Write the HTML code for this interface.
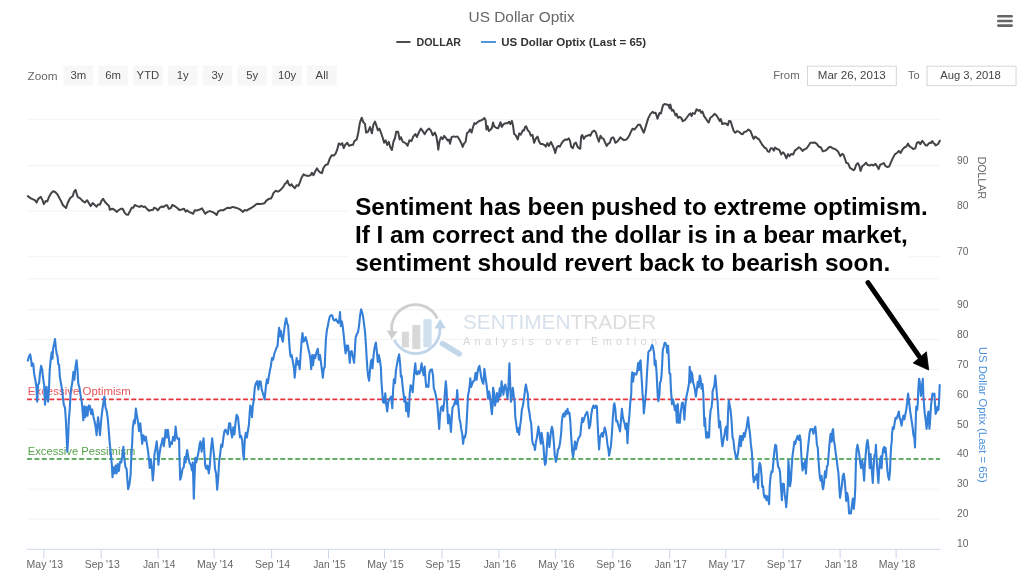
<!DOCTYPE html>
<html><head><meta charset="utf-8"><title>US Dollar Optix</title>
<style>
html,body{margin:0;padding:0;background:#fff;}
body{width:1024px;height:579px;overflow:hidden;font-family:"Liberation Sans",sans-serif;}
svg{display:block;filter:blur(0.45px)}
text{font-family:"Liberation Sans",sans-serif}
.ax{font-size:10.3px;fill:#666}
.btn{font-size:11.3px;fill:#444}
.lg{font-size:11.3px;font-weight:bold;fill:#333}
.note{font-size:24.3px;font-weight:bold;fill:#000}
</style></head><body>
<svg width="1024" height="579" viewBox="0 0 1024 579">
<rect width="1024" height="579" fill="#fff"/>

<g stroke="#f3f3f3" stroke-width="1" shape-rendering="auto">
<line x1="27" y1="119.7" x2="940" y2="119.7"/>
<line x1="27" y1="165.5" x2="940" y2="165.5"/>
<line x1="27" y1="211" x2="940" y2="211"/>
<line x1="27" y1="256.7" x2="940" y2="256.7"/>
<line x1="27" y1="278.8" x2="940" y2="278.8"/>
<line x1="27" y1="309.5" x2="940" y2="309.5"/>
<line x1="27" y1="339.5" x2="940" y2="339.5"/>
<line x1="27" y1="369.5" x2="940" y2="369.5"/>
<line x1="27" y1="399.4" x2="940" y2="399.4"/>
<line x1="27" y1="429.3" x2="940" y2="429.3"/>
<line x1="27" y1="459.2" x2="940" y2="459.2"/>
<line x1="27" y1="489.2" x2="940" y2="489.2"/>
<line x1="27" y1="519" x2="940" y2="519"/>
</g>
<line x1="27" y1="549.3" x2="940" y2="549.3" stroke="#ccd6eb" stroke-width="1"/>
<g stroke="#ccd6eb" stroke-width="1">
<line x1="43.8" y1="549" x2="43.8" y2="558.5"/>
<line x1="101.2" y1="549" x2="101.2" y2="558.5"/>
<line x1="158.2" y1="549" x2="158.2" y2="558.5"/>
<line x1="214.2" y1="549" x2="214.2" y2="558.5"/>
<line x1="271.6" y1="549" x2="271.6" y2="558.5"/>
<line x1="328.5" y1="549" x2="328.5" y2="558.5"/>
<line x1="384.5" y1="549" x2="384.5" y2="558.5"/>
<line x1="442.0" y1="549" x2="442.0" y2="558.5"/>
<line x1="498.9" y1="549" x2="498.9" y2="558.5"/>
<line x1="555.4" y1="549" x2="555.4" y2="558.5"/>
<line x1="612.8" y1="549" x2="612.8" y2="558.5"/>
<line x1="669.7" y1="549" x2="669.7" y2="558.5"/>
<line x1="725.8" y1="549" x2="725.8" y2="558.5"/>
<line x1="783.2" y1="549" x2="783.2" y2="558.5"/>
<line x1="840.1" y1="549" x2="840.1" y2="558.5"/>
<line x1="896.1" y1="549" x2="896.1" y2="558.5"/>
</g>
<g class="ax" text-anchor="middle">
<text x="44.8" y="567.7" textLength="36.5" lengthAdjust="spacingAndGlyphs">May '13</text>
<text x="102.2" y="567.7" textLength="35" lengthAdjust="spacingAndGlyphs">Sep '13</text>
<text x="159.2" y="567.7" textLength="32.5" lengthAdjust="spacingAndGlyphs">Jan '14</text>
<text x="215.2" y="567.7" textLength="36.5" lengthAdjust="spacingAndGlyphs">May '14</text>
<text x="272.6" y="567.7" textLength="35" lengthAdjust="spacingAndGlyphs">Sep '14</text>
<text x="329.5" y="567.7" textLength="32.5" lengthAdjust="spacingAndGlyphs">Jan '15</text>
<text x="385.5" y="567.7" textLength="36.5" lengthAdjust="spacingAndGlyphs">May '15</text>
<text x="443.0" y="567.7" textLength="35" lengthAdjust="spacingAndGlyphs">Sep '15</text>
<text x="499.9" y="567.7" textLength="32.5" lengthAdjust="spacingAndGlyphs">Jan '16</text>
<text x="556.4" y="567.7" textLength="36.5" lengthAdjust="spacingAndGlyphs">May '16</text>
<text x="613.8" y="567.7" textLength="35" lengthAdjust="spacingAndGlyphs">Sep '16</text>
<text x="670.7" y="567.7" textLength="32.5" lengthAdjust="spacingAndGlyphs">Jan '17</text>
<text x="726.8" y="567.7" textLength="36.5" lengthAdjust="spacingAndGlyphs">May '17</text>
<text x="784.2" y="567.7" textLength="35" lengthAdjust="spacingAndGlyphs">Sep '17</text>
<text x="841.1" y="567.7" textLength="32.5" lengthAdjust="spacingAndGlyphs">Jan '18</text>
<text x="897.1" y="567.7" textLength="36.5" lengthAdjust="spacingAndGlyphs">May '18</text>
</g>
<text x="468.6" y="21.6" font-size="15px" fill="#666" textLength="106" lengthAdjust="spacingAndGlyphs">US Dollar Optix</text>
<line x1="396.3" y1="42" x2="410.5" y2="42" stroke="#434348" stroke-width="1.9"/>
<text class="lg" x="416.6" y="45.9" textLength="44.5" lengthAdjust="spacingAndGlyphs">DOLLAR</text>
<line x1="481" y1="42" x2="496" y2="42" stroke="#4a90d9" stroke-width="1.9"/>
<text class="lg" x="501.3" y="45.9" textLength="144.8" lengthAdjust="spacingAndGlyphs">US Dollar Optix (Last = 65)</text>
<g stroke="#666" stroke-width="2.6" stroke-linecap="round"><line x1="998.3" y1="16.3" x2="1011.6" y2="16.3"/><line x1="998.3" y1="21" x2="1011.6" y2="21"/><line x1="998.3" y1="25.6" x2="1011.6" y2="25.6"/></g>
<text class="btn" x="27.5" y="79.6" fill="#666" style="fill:#666" textLength="30" lengthAdjust="spacingAndGlyphs">Zoom</text>
<rect x="63.5" y="65.6" width="29.6" height="19.9" fill="#f7f7f7"/>
<text class="btn" x="78.3" y="79.3" text-anchor="middle">3m</text>
<rect x="98.3" y="65.6" width="29.6" height="19.9" fill="#f7f7f7"/>
<text class="btn" x="113.1" y="79.3" text-anchor="middle">6m</text>
<rect x="133.1" y="65.6" width="29.6" height="19.9" fill="#f7f7f7"/>
<text class="btn" x="147.9" y="79.3" text-anchor="middle">YTD</text>
<rect x="167.9" y="65.6" width="29.6" height="19.9" fill="#f7f7f7"/>
<text class="btn" x="182.7" y="79.3" text-anchor="middle">1y</text>
<rect x="202.7" y="65.6" width="29.6" height="19.9" fill="#f7f7f7"/>
<text class="btn" x="217.5" y="79.3" text-anchor="middle">3y</text>
<rect x="237.5" y="65.6" width="29.6" height="19.9" fill="#f7f7f7"/>
<text class="btn" x="252.3" y="79.3" text-anchor="middle">5y</text>
<rect x="272.3" y="65.6" width="29.6" height="19.9" fill="#f7f7f7"/>
<text class="btn" x="287.1" y="79.3" text-anchor="middle">10y</text>
<rect x="307.1" y="65.6" width="29.6" height="19.9" fill="#f7f7f7"/>
<text class="btn" x="321.9" y="79.3" text-anchor="middle">All</text>
<text class="btn" x="773.2" y="79.3" style="fill:#666" textLength="26.4" lengthAdjust="spacingAndGlyphs">From</text>
<rect x="807.5" y="66.2" width="88.8" height="19.4" fill="#fff" stroke="#d6d6d6" stroke-width="1"/>
<text class="btn" x="817.8" y="79.3" textLength="68" lengthAdjust="spacingAndGlyphs">Mar 26, 2013</text>
<text class="btn" x="908" y="79.3" style="fill:#666" textLength="11.7" lengthAdjust="spacingAndGlyphs">To</text>
<rect x="927" y="66.2" width="89" height="19.4" fill="#fff" stroke="#d6d6d6" stroke-width="1"/>
<text class="btn" x="940.2" y="79.3" textLength="60.7" lengthAdjust="spacingAndGlyphs">Aug 3, 2018</text>
<text class="ax" x="957" y="163.8">90</text>
<text class="ax" x="957" y="209.0">80</text>
<text class="ax" x="957" y="254.9">70</text>
<text class="ax" x="957" y="308.1">90</text>
<text class="ax" x="957" y="338.0">80</text>
<text class="ax" x="957" y="367.9">70</text>
<text class="ax" x="957" y="397.8">60</text>
<text class="ax" x="957" y="427.6">50</text>
<text class="ax" x="957" y="457.4">40</text>
<text class="ax" x="957" y="487.2">30</text>
<text class="ax" x="957" y="517.0">20</text>
<text class="ax" x="957" y="546.8">10</text>
<text class="ax" transform="translate(977.5,156.7) rotate(90)" style="font-size:11.3px" textLength="42.4" lengthAdjust="spacingAndGlyphs">DOLLAR</text>
<text class="ax" transform="translate(978.7,346.7) rotate(90)" style="font-size:11.3px;fill:#4a90d9" textLength="136" lengthAdjust="spacingAndGlyphs">US Dollar Optix (Last = 65)</text>
<g fill="none" stroke-linecap="butt">
<path d="M437.4 318.6 A24 24 0 0 0 392.1 333.5" stroke="#cfcfcf" stroke-width="2.8"/>
<path d="M394.3 340 A24 24 0 0 0 439.9 329.5 L439.9 326" stroke="#bfd5e9" stroke-width="2.8"/>
<polygon points="386.6,330.3 397.6,331.6 391.6,339.2" fill="#cfcfcf"/>
<polygon points="434.4,328.6 445.8,328.2 440.2,319" fill="#bfd5e9"/>
<line x1="442.5" y1="343.6" x2="459.3" y2="353.8" stroke="#c2d7ea" stroke-width="5.6" stroke-linecap="round"/>
<rect x="401.9" y="331.7" width="7" height="15.6" fill="#d8d8d8"/>
<rect x="412.3" y="325" width="8" height="24" fill="#d8d8d8"/>
<rect x="423.4" y="319.2" width="8.2" height="28.1" fill="#d0e0ee"/>
</g>
<text x="462.9" y="329" font-size="19.5px" fill="#d7e1eb" textLength="193.3" lengthAdjust="spacingAndGlyphs">SENTIMEN<tspan fill="#dddddd">TRADER</tspan></text>
<text x="463" y="345.1" font-size="11px" fill="#d6d6d6" textLength="194" lengthAdjust="spacing">Analysis over Emotion</text>

<line x1="27" y1="399.4" x2="940" y2="399.4" stroke="#e8323c" stroke-width="1.7" stroke-dasharray="4.9 2.55"/>
<line x1="27" y1="459.0" x2="940" y2="459.0" stroke="#339a3a" stroke-width="1.7" stroke-dasharray="4.9 2.55"/>
<text x="27.8" y="395.4" font-size="11.3px" fill="#e4555a" textLength="103" lengthAdjust="spacingAndGlyphs">Excessive Optimism</text>
<text x="27.8" y="455.4" font-size="11.3px" fill="#55a04a" textLength="107.5" lengthAdjust="spacingAndGlyphs">Excessive Pessimism</text>
<path d="M27.8 196.2 L30.9 198.3 L34.8 200.2 L36.7 202.5 L38.0 199.1 L40.8 196.9 L42.7 200.6 L43.9 204.1 L45.8 200.9 L47.3 201.4 L48.9 197.2 L51.2 193.1 L53.1 191.2 L55.2 192.0 L57.2 194.1 L59.1 197.5 L60.9 200.9 L63.0 205.3 L66.1 208.0 L67.7 203.0 L70.0 198.3 L72.8 195.9 L73.9 192.0 L75.5 189.7 L76.6 193.6 L77.8 197.2 L80.2 198.3 L82.5 200.9 L84.8 202.5 L87.2 200.3 L88.8 203.0 L90.6 206.1 L92.7 203.0 L95.0 205.3 L96.6 206.6 L98.1 204.5 L100.0 204.5 L101.6 200.6 L103.1 198.8 L105.2 202.2 L107.5 204.5 L109.1 206.1 L109.8 209.7 L112.2 208.8 L114.5 209.7 L116.9 211.9 L118.8 210.0 L120.8 208.8 L122.7 208.8 L124.4 212.3 L126.2 214.4 L128.1 214.7 L130.2 210.8 L131.7 207.7 L133.3 207.7 L134.8 205.0 L137.2 206.1 L139.5 206.9 L141.1 205.8 L143.4 206.9 L145.0 206.6 L146.9 208.8 L148.9 210.8 L151.2 210.0 L153.1 209.7 L154.1 207.7 L155.9 208.4 L157.8 210.3 L159.8 207.7 L161.9 206.4 L163.0 207.2 L165.3 205.6 L167.2 205.3 L168.8 208.8 L170.8 208.1 L172.3 205.0 L174.7 206.1 L177.0 207.7 L179.4 210.0 L181.7 209.5 L184.1 208.8 L185.6 211.6 L187.2 210.3 L188.8 211.9 L191.1 212.7 L193.1 213.8 L194.7 210.3 L196.6 210.6 L198.9 209.8 L202.0 208.4 L203.6 211.1 L205.2 213.8 L207.5 211.9 L209.8 211.1 L212.2 211.9 L214.5 213.1 L216.6 215.0 L218.4 211.1 L220.8 210.3 L223.1 210.3 L225.5 208.8 L227.8 207.7 L230.2 208.1 L232.5 206.9 L234.8 207.5 L237.2 208.1 L239.5 209.1 L241.1 210.3 L242.7 211.9 L244.7 210.0 L246.6 210.6 L248.9 209.1 L251.2 208.0 L253.6 206.4 L255.9 204.4 L257.5 203.8 L259.8 204.1 L262.2 203.8 L264.5 203.3 L266.1 200.9 L268.4 199.1 L270.8 198.6 L272.3 196.2 L273.4 193.1 L275.5 190.8 L277.8 191.6 L279.4 190.8 L281.2 189.2 L283.3 186.9 L284.8 184.1 L286.9 182.2 L287.5 180.6 L288.8 184.5 L290.3 185.6 L291.6 184.2 L293.4 186.9 L295.0 188.1 L296.6 185.3 L298.4 185.8 L300.0 182.2 L301.6 177.5 L303.6 174.4 L305.9 175.6 L308.3 175.9 L310.6 175.2 L311.9 172.8 L313.4 175.2 L315.3 171.2 L316.9 168.4 L318.8 171.2 L320.3 172.5 L321.9 173.1 L323.4 168.1 L325.5 165.0 L327.8 164.2 L329.7 158.8 L331.7 155.2 L333.8 155.6 L335.6 153.6 L337.2 149.7 L338.8 143.4 L340.6 144.7 L342.2 143.1 L343.8 148.1 L345.3 144.7 L347.3 142.7 L348.9 145.8 L351.2 145.0 L353.1 144.7 L354.4 141.1 L356.7 139.5 L358.3 132.5 L359.8 123.1 L361.7 117.7 L363.4 122.3 L365.0 123.9 L366.1 132.5 L368.1 131.7 L370.0 127.0 L371.9 133.3 L373.4 124.7 L375.0 121.6 L376.6 126.2 L377.8 130.2 L379.4 128.6 L381.2 133.3 L382.8 138.0 L384.1 142.7 L385.6 140.3 L387.2 145.0 L388.8 141.9 L390.3 147.3 L391.9 150.0 L393.4 141.9 L395.0 138.0 L396.2 131.7 L398.1 131.7 L399.7 139.5 L400.9 137.2 L402.8 141.9 L404.7 142.7 L406.2 143.8 L407.5 145.8 L409.4 140.3 L411.4 141.1 L413.4 136.4 L415.3 134.1 L416.9 136.9 L418.8 132.5 L420.8 128.6 L422.8 131.2 L424.7 134.1 L427.0 130.2 L429.1 128.6 L430.9 130.6 L432.8 135.3 L434.8 132.5 L436.4 136.4 L437.5 143.4 L438.3 149.7 L439.5 141.1 L441.1 137.2 L442.7 139.1 L444.2 135.9 L446.2 138.4 L447.8 140.6 L449.1 139.5 L450.0 143.8 L451.6 137.2 L453.6 136.4 L455.6 136.9 L457.5 136.4 L459.4 139.5 L461.4 143.4 L462.7 146.9 L464.1 143.4 L465.6 141.9 L466.9 133.3 L468.8 131.7 L470.0 129.4 L471.6 132.5 L472.8 127.8 L474.4 123.1 L475.9 123.9 L477.8 121.9 L479.7 120.8 L480.9 120.6 L482.5 119.7 L484.4 118.1 L485.6 120.2 L486.4 129.5 L487.5 125.9 L488.8 131.1 L490.6 129.5 L491.9 128.0 L493.1 122.5 L494.2 126.4 L496.6 128.0 L498.1 128.4 L500.5 122.2 L501.7 126.9 L503.6 124.1 L505.6 123.3 L507.5 123.3 L509.1 121.7 L510.3 124.1 L511.9 120.9 L513.0 125.6 L514.2 134.2 L515.6 135.0 L517.7 139.4 L519.2 133.4 L520.8 134.7 L522.8 130.3 L523.9 130.6 L525.0 127.2 L526.2 126.4 L527.8 130.3 L529.4 131.9 L530.9 135.8 L532.5 134.7 L534.1 142.8 L535.6 138.9 L537.5 136.6 L539.1 141.6 L540.6 144.1 L542.7 144.1 L544.7 145.2 L545.8 146.7 L547.3 143.1 L548.9 145.9 L550.9 142.0 L552.5 145.2 L554.1 149.1 L555.2 153.0 L556.7 147.5 L558.3 145.9 L559.8 146.7 L561.4 143.6 L563.4 140.9 L565.6 139.4 L567.2 139.7 L568.8 138.4 L570.0 140.9 L571.2 146.7 L572.8 148.3 L574.4 143.6 L575.9 142.5 L577.5 146.7 L579.1 148.3 L580.2 148.8 L581.2 136.6 L582.2 135.0 L583.8 138.9 L585.6 136.2 L587.5 135.8 L589.1 134.7 L590.3 135.8 L592.2 131.9 L594.2 130.6 L595.8 132.2 L597.3 137.3 L598.9 141.6 L600.5 135.8 L602.0 138.1 L603.6 138.9 L605.2 142.8 L606.7 145.9 L608.3 143.6 L609.8 142.8 L611.4 138.1 L613.0 137.3 L614.1 138.9 L615.3 142.8 L617.2 141.6 L618.8 139.7 L620.3 137.3 L621.9 138.9 L623.9 140.0 L625.9 139.7 L627.8 138.1 L629.7 134.7 L630.9 131.9 L632.5 128.8 L634.4 129.5 L636.4 127.2 L638.0 124.8 L640.0 124.8 L641.9 128.8 L643.8 132.7 L645.8 126.4 L648.1 118.6 L650.5 113.9 L652.5 111.9 L654.1 113.1 L655.6 112.8 L657.5 118.6 L659.4 113.1 L660.9 113.4 L663.0 105.3 L664.5 104.1 L666.6 104.5 L668.4 105.0 L669.7 108.4 L670.3 104.5 L671.9 110.8 L673.4 110.0 L675.5 115.5 L676.6 113.9 L678.1 117.8 L679.7 117.0 L681.2 117.8 L682.8 121.2 L684.8 120.2 L686.9 117.5 L688.8 114.7 L690.3 113.4 L691.6 116.2 L692.7 113.1 L694.7 113.9 L696.6 109.2 L698.4 110.8 L700.0 110.0 L701.2 112.8 L702.5 111.6 L704.1 116.2 L705.9 118.6 L707.8 121.7 L708.8 122.5 L710.3 117.8 L712.5 116.2 L714.5 113.9 L716.6 115.5 L718.4 118.6 L719.7 120.9 L720.8 119.1 L722.3 124.1 L724.4 123.3 L726.2 123.8 L727.8 125.3 L729.1 120.9 L730.6 121.2 L732.2 126.4 L733.8 131.1 L735.3 132.7 L737.2 131.1 L739.1 131.9 L741.1 133.8 L742.7 134.2 L744.2 131.9 L746.2 131.6 L748.4 129.5 L750.5 131.1 L752.0 135.0 L753.6 138.9 L755.2 136.6 L757.2 138.1 L759.1 139.4 L760.6 142.0 L762.5 145.2 L764.5 147.5 L766.1 148.3 L767.7 151.4 L769.2 151.9 L770.8 148.3 L772.3 148.3 L773.9 150.6 L775.0 147.5 L777.0 149.1 L778.6 149.4 L779.7 150.6 L781.2 154.5 L782.8 152.2 L784.4 153.8 L786.4 158.4 L788.0 154.1 L789.5 156.1 L791.1 154.1 L793.1 154.5 L795.0 150.3 L796.9 149.1 L798.9 147.2 L800.5 148.3 L802.5 150.9 L804.4 149.4 L806.7 148.3 L808.8 145.2 L810.3 142.8 L812.5 142.8 L814.5 142.5 L816.6 143.6 L818.8 146.7 L820.8 147.2 L822.8 151.4 L824.7 150.9 L826.6 149.8 L828.6 147.5 L830.6 146.7 L832.5 148.3 L834.4 148.8 L836.4 149.8 L838.4 152.2 L840.3 156.1 L842.2 153.8 L843.4 154.5 L845.0 158.8 L846.2 162.8 L848.1 163.4 L850.0 167.8 L852.0 169.1 L853.6 170.2 L854.7 169.1 L856.2 164.7 L857.8 163.1 L859.4 165.9 L860.6 170.9 L862.2 166.2 L864.1 164.7 L866.1 162.8 L867.7 165.0 L869.7 165.5 L871.6 164.7 L873.4 165.5 L875.5 163.9 L877.5 167.0 L878.6 169.1 L880.2 164.7 L882.2 163.9 L883.8 163.1 L885.6 166.2 L887.5 167.0 L889.1 166.6 L890.6 163.1 L892.7 158.4 L895.0 154.1 L896.9 153.0 L898.9 150.9 L900.5 153.0 L902.5 149.4 L904.4 147.5 L906.2 146.7 L908.0 143.6 L909.4 146.2 L911.4 147.5 L913.4 149.1 L915.3 148.3 L916.9 142.8 L918.8 142.0 L920.3 144.1 L922.3 140.9 L923.9 142.8 L925.5 145.2 L927.0 145.6 L928.6 143.6 L929.8 142.8 L930.8 143.1 L932.2 141.1 L933.5 143.1 L934.7 143.8 L935.6 145.4 L937.0 144.8 L938.2 143.8 L939.0 142.3 L939.8 140.7" fill="none" stroke="#434348" stroke-width="2" stroke-linejoin="round" stroke-linecap="round"/>
<path d="M27.8 360.6 L29.1 356.2 L30.2 354.4 L31.2 360.2 L31.7 365.9 L32.5 363.3 L33.3 364.1 L34.1 373.4 L35.3 379.7 L36.4 386.7 L37.2 401.6 L38.0 385.2 L39.1 382.8 L40.0 373.4 L41.1 365.9 L42.2 369.5 L43.1 378.1 L44.2 385.2 L45.0 404.7 L45.8 393.8 L46.6 386.7 L47.3 396.9 L48.1 401.6 L48.9 390.6 L49.7 370.3 L50.8 358.6 L51.7 352.3 L52.5 358.6 L53.1 348.4 L54.1 343.8 L55.0 339.1 L55.9 348.4 L56.7 353.9 L57.5 356.2 L58.3 364.1 L59.1 364.8 L59.8 376.6 L60.6 381.2 L61.4 385.9 L62.2 390.6 L63.0 398.4 L63.8 404.7 L65.0 407.8 L65.8 418.8 L66.6 435.9 L67.3 451.6 L68.1 439.1 L68.8 420.3 L69.7 409.4 L70.8 390.6 L72.3 382.8 L73.4 371.9 L74.4 379.7 L75.5 366.4 L76.6 360.2 L77.5 370.3 L78.3 383.6 L79.4 387.5 L80.6 395.3 L81.7 401.6 L82.5 409.4 L83.3 420.3 L84.4 406.2 L85.3 417.2 L86.4 407.0 L87.5 415.6 L88.8 405.5 L90.0 406.2 L91.1 414.1 L92.2 409.4 L93.4 416.4 L94.7 421.9 L95.8 428.1 L96.6 435.2 L97.3 425.0 L98.1 417.2 L98.9 425.0 L100.0 435.2 L100.9 423.4 L102.0 412.5 L103.1 404.7 L104.4 396.6 L105.6 407.8 L106.7 410.9 L107.8 418.8 L108.8 431.2 L109.8 443.8 L110.9 454.7 L111.9 465.6 L112.5 477.3 L113.4 467.2 L114.5 473.4 L115.6 465.6 L116.6 473.4 L117.7 464.1 L118.8 471.1 L120.0 461.7 L121.2 462.5 L122.3 456.2 L123.4 446.9 L124.4 459.4 L125.5 467.2 L126.6 468.8 L127.5 481.2 L128.1 489.1 L129.4 484.4 L130.6 475.0 L131.2 459.4 L132.2 442.2 L132.8 428.1 L133.8 420.3 L134.8 423.4 L135.9 408.6 L136.9 415.6 L138.0 421.9 L139.1 431.2 L140.3 423.4 L141.2 432.8 L142.2 443.8 L143.4 435.2 L145.0 440.6 L145.8 436.7 L146.9 443.8 L148.1 451.6 L149.1 460.9 L149.7 468.0 L150.9 459.4 L152.0 468.8 L152.8 480.5 L153.8 468.8 L154.4 454.7 L155.6 448.4 L156.7 441.4 L157.5 450.0 L158.4 464.8 L159.4 454.7 L160.6 446.9 L161.9 442.2 L162.7 438.3 L163.8 446.1 L164.7 439.1 L165.6 429.7 L166.9 437.5 L167.8 429.7 L168.8 437.5 L169.7 446.9 L170.8 442.2 L171.9 443.8 L173.1 436.7 L174.7 440.6 L175.6 426.6 L176.7 436.7 L177.8 439.1 L179.1 438.3 L179.4 454.7 L180.2 479.7 L181.2 476.6 L182.5 468.8 L183.8 467.2 L184.8 457.0 L185.6 462.5 L186.4 454.7 L187.2 450.0 L188.4 457.8 L189.5 462.5 L191.1 465.6 L191.9 470.3 L192.8 462.5 L193.8 498.6 L194.7 473.4 L195.3 457.8 L196.2 462.5 L197.3 457.8 L198.4 453.1 L199.7 443.8 L200.5 441.4 L201.6 451.6 L202.5 445.3 L203.6 438.3 L204.4 453.1 L205.3 465.6 L206.2 468.8 L207.5 465.6 L208.8 473.4 L209.8 465.6 L210.9 450.0 L212.2 438.3 L213.1 446.9 L214.1 456.2 L215.0 468.8 L216.1 473.4 L217.2 489.7 L218.4 475.0 L219.2 460.9 L220.3 453.1 L221.2 444.5 L222.3 446.9 L223.4 437.5 L224.4 431.2 L225.5 429.7 L226.6 432.0 L227.8 434.4 L229.1 423.4 L230.2 423.4 L231.2 432.8 L232.2 437.5 L233.3 427.3 L234.4 434.4 L235.6 421.9 L236.6 414.8 L238.0 417.2 L239.1 428.1 L240.0 437.5 L241.1 435.9 L242.2 440.6 L243.1 453.1 L243.8 459.4 L244.4 446.9 L245.0 437.5 L245.9 432.8 L246.9 437.5 L247.8 431.2 L248.9 425.0 L249.7 412.5 L250.3 405.5 L251.2 409.4 L252.0 417.2 L252.8 406.2 L253.8 400.0 L254.8 387.2 L255.9 383.3 L257.2 381.2 L258.4 389.5 L259.5 381.2 L260.6 381.7 L261.9 390.3 L263.4 395.0 L264.7 399.4 L265.8 387.2 L266.9 379.4 L267.8 383.3 L268.9 376.2 L270.0 370.0 L270.9 365.9 L272.0 358.1 L273.1 359.7 L274.4 353.4 L275.6 350.3 L276.7 347.2 L277.5 346.4 L278.3 336.2 L279.1 327.7 L280.0 336.2 L280.9 330.8 L281.9 338.6 L282.8 341.7 L283.8 333.1 L285.0 323.8 L286.2 318.3 L287.2 323.8 L288.1 325.3 L288.8 336.2 L289.7 348.8 L290.6 356.6 L291.6 355.0 L292.8 361.2 L293.9 367.5 L294.7 377.7 L295.6 367.5 L296.6 358.1 L297.5 364.4 L298.6 361.2 L299.7 369.1 L300.6 355.0 L301.6 340.9 L302.5 333.1 L303.4 341.7 L304.4 340.9 L305.6 337.0 L306.9 341.7 L308.0 347.2 L309.1 351.9 L310.3 358.1 L311.2 369.1 L312.2 355.0 L313.1 365.2 L314.2 355.0 L315.3 358.1 L316.6 351.9 L317.8 348.8 L318.9 359.7 L320.0 355.0 L321.2 364.4 L322.2 372.2 L322.8 377.7 L323.8 368.3 L324.7 367.5 L325.3 351.9 L325.9 339.4 L326.9 330.0 L327.8 326.1 L328.8 320.6 L329.8 316.7 L330.9 315.2 L332.2 315.2 L333.4 319.8 L334.7 320.6 L335.9 319.1 L337.2 321.4 L338.4 323.0 L339.4 319.1 L340.0 312.0 L340.8 326.1 L341.9 321.4 L342.8 326.9 L343.8 336.2 L344.7 345.6 L345.6 353.4 L346.6 345.6 L347.5 350.3 L348.1 345.6 L349.1 355.0 L349.8 362.8 L350.6 351.9 L351.7 351.1 L352.8 356.6 L354.1 362.8 L354.8 351.9 L355.6 337.8 L356.9 333.9 L358.0 332.3 L359.1 325.3 L360.0 315.9 L361.1 309.4 L362.2 312.8 L363.1 316.7 L364.2 325.3 L365.0 331.6 L365.9 344.1 L366.6 356.6 L367.3 367.5 L368.1 376.1 L369.1 380.8 L370.0 370.6 L370.9 361.2 L371.7 359.7 L372.5 368.3 L373.6 355.0 L374.7 347.2 L375.9 342.5 L376.9 351.9 L377.8 362.0 L378.8 355.0 L379.8 359.7 L380.9 367.5 L381.4 380.9 L382.2 391.9 L383.0 402.0 L384.1 402.8 L385.3 393.4 L386.2 404.4 L387.2 411.4 L388.4 401.2 L389.7 398.9 L391.2 396.6 L392.3 408.3 L393.1 390.3 L393.9 379.4 L395.0 383.3 L395.9 370.6 L397.0 364.4 L398.1 358.1 L399.1 355.0 L399.1 354.4 L400.2 365.0 L400.9 376.7 L401.7 375.9 L402.5 385.3 L403.8 396.2 L404.4 401.7 L405.3 397.0 L406.2 411.1 L407.2 402.5 L408.4 416.6 L409.1 408.8 L409.7 393.9 L410.6 385.3 L411.6 386.1 L412.7 392.3 L413.4 382.2 L414.4 371.2 L415.3 363.4 L416.2 373.6 L417.3 374.4 L418.4 371.2 L419.4 373.6 L420.5 370.5 L421.6 363.4 L422.5 369.7 L423.6 375.2 L424.7 366.6 L425.6 380.6 L426.2 386.9 L427.5 385.3 L428.4 386.9 L429.4 372.8 L430.6 369.7 L431.9 369.4 L433.0 375.2 L433.8 388.4 L435.0 391.6 L436.1 397.0 L437.2 402.5 L438.1 414.1 L439.2 428.9 L440.0 415.6 L440.9 407.8 L442.2 406.2 L443.1 410.9 L444.1 403.1 L445.0 391.6 L445.8 381.4 L446.6 390.0 L447.2 406.2 L448.1 423.4 L449.1 414.8 L450.0 420.3 L450.9 432.0 L451.9 415.6 L452.5 407.8 L454.1 404.7 L455.3 400.2 L456.2 404.1 L457.2 390.0 L458.1 403.1 L458.8 410.9 L459.4 418.8 L460.3 421.9 L461.2 428.9 L462.2 433.6 L463.1 443.8 L464.1 436.7 L465.0 437.5 L465.9 432.8 L466.6 423.4 L467.3 409.4 L468.1 394.7 L468.9 391.6 L469.7 385.3 L470.3 378.3 L471.2 386.9 L472.2 383.8 L473.1 381.4 L474.4 380.6 L475.6 372.8 L476.6 379.8 L477.5 372.8 L478.4 368.1 L479.4 365.8 L480.3 371.2 L481.4 378.3 L482.5 382.2 L483.4 383.8 L484.4 368.9 L485.3 375.9 L486.2 382.2 L487.2 390.0 L488.1 398.6 L489.1 391.6 L490.0 396.2 L490.9 405.6 L491.9 414.2 L492.5 407.2 L493.1 387.7 L494.1 393.1 L495.0 405.6 L495.9 400.9 L496.9 393.1 L497.8 401.7 L498.8 397.8 L499.7 388.4 L500.6 396.2 L501.6 381.4 L502.5 388.4 L503.4 394.7 L504.4 386.9 L505.3 384.5 L506.4 390.0 L507.5 398.6 L508.4 386.9 L509.4 363.4 L510.0 379.1 L510.9 401.7 L511.9 396.2 L512.8 387.7 L513.8 396.2 L514.7 402.5 L515.3 417.2 L516.2 423.4 L517.2 432.0 L518.1 428.1 L519.1 434.7 L520.0 426.6 L520.9 420.3 L521.9 409.4 L522.8 406.2 L524.1 397.8 L525.0 390.0 L525.9 384.5 L526.9 390.0 L527.8 393.9 L528.4 407.0 L529.4 412.5 L530.3 419.5 L531.2 423.4 L532.2 440.6 L533.1 444.5 L534.1 445.3 L535.0 450.0 L535.9 442.2 L536.9 437.5 L537.8 431.2 L538.4 426.6 L539.4 433.6 L540.3 440.6 L540.9 443.8 L541.6 432.8 L542.5 439.1 L543.4 445.3 L544.4 459.4 L545.0 464.8 L545.9 462.5 L546.9 446.9 L547.8 432.8 L548.8 439.1 L549.4 446.9 L550.9 432.2 L551.9 426.7 L552.8 430.6 L553.8 441.6 L554.8 455.6 L555.9 461.9 L556.9 457.2 L558.0 449.4 L559.1 447.8 L560.0 443.1 L561.1 433.8 L561.9 421.2 L562.8 415.0 L563.8 413.4 L564.7 416.6 L565.6 411.1 L566.6 414.2 L567.5 408.8 L568.4 413.4 L569.4 412.7 L570.3 421.2 L571.2 436.9 L572.2 450.9 L573.1 457.2 L574.1 448.6 L575.0 441.6 L575.9 449.4 L577.2 443.1 L578.3 438.4 L579.4 436.9 L580.3 435.3 L581.2 425.9 L582.2 418.1 L583.1 422.0 L584.1 418.9 L585.3 415.0 L586.2 413.4 L587.2 411.9 L588.1 417.3 L589.2 428.3 L590.3 424.4 L591.2 415.0 L592.3 408.8 L593.4 405.6 L594.7 408.0 L595.9 405.6 L596.9 406.4 L597.5 421.2 L598.4 438.4 L599.1 449.4 L600.0 436.9 L600.9 435.3 L601.9 433.0 L602.8 436.9 L603.8 432.2 L604.7 427.5 L605.6 430.6 L606.6 436.9 L607.5 444.7 L608.4 449.4 L609.1 455.6 L610.0 450.9 L610.9 446.2 L611.9 433.8 L612.8 418.1 L613.8 405.6 L614.4 403.3 L615.3 408.8 L616.2 421.2 L617.2 420.5 L618.1 424.4 L619.1 427.5 L620.0 431.4 L620.9 421.2 L621.9 408.8 L622.8 416.6 L623.8 421.2 L624.7 423.6 L625.6 429.1 L626.6 423.6 L627.5 443.1 L628.4 425.9 L629.4 415.0 L630.3 402.5 L631.2 394.7 L631.3 390.3 L631.6 379.4 L632.2 372.3 L633.1 381.7 L634.1 373.1 L635.2 373.9 L636.2 374.7 L637.2 371.6 L638.1 363.0 L639.1 370.0 L640.0 361.4 L640.6 360.3 L641.2 371.6 L641.9 382.5 L642.5 393.4 L643.4 402.8 L643.8 413.4 L645.3 399.7 L646.2 388.8 L646.9 374.7 L647.7 362.2 L648.4 352.0 L649.4 350.5 L650.3 350.5 L651.2 347.3 L652.2 345.0 L653.1 347.3 L654.1 353.6 L654.7 365.3 L655.6 360.6 L656.6 373.1 L657.2 385.6 L657.8 396.6 L658.4 401.2 L659.4 395.0 L660.0 382.5 L660.9 380.9 L661.6 374.7 L662.2 363.8 L662.8 349.7 L663.8 346.6 L664.7 342.7 L665.6 343.4 L666.6 345.8 L667.2 352.8 L668.1 345.8 L668.8 359.1 L669.4 373.1 L670.3 373.9 L670.9 388.8 L672.0 404.1 L673.1 399.4 L674.1 405.6 L675.0 410.3 L675.9 405.6 L676.9 422.8 L677.8 404.1 L678.8 422.8 L679.8 422.8 L680.6 413.4 L681.9 403.3 L682.8 402.5 L683.8 411.1 L684.4 419.7 L685.3 405.6 L686.2 397.8 L687.2 393.1 L688.1 388.8 L689.1 382.5 L689.7 366.9 L690.6 382.5 L691.2 371.6 L692.2 373.9 L693.1 382.5 L694.1 385.6 L695.0 390.3 L695.9 396.6 L696.9 388.8 L697.8 381.7 L698.8 387.2 L699.7 375.5 L700.6 378.6 L701.6 388.8 L702.5 384.1 L703.1 391.9 L703.2 391.9 L703.8 408.8 L704.4 425.9 L705.0 418.1 L705.6 429.1 L706.2 437.7 L707.2 432.2 L708.1 437.7 L709.1 436.9 L709.7 421.2 L710.6 410.3 L711.6 407.2 L712.5 397.8 L712.5 391.9 L713.4 388.8 L714.4 385.6 L715.3 375.5 L716.2 385.6 L717.2 398.1 L717.5 399.4 L718.1 410.3 L719.1 427.5 L720.0 421.2 L720.9 430.6 L721.9 443.1 L722.5 446.2 L723.4 440.0 L724.4 435.3 L725.3 429.1 L726.2 426.7 L727.2 440.0 L728.1 411.9 L728.8 400.2 L729.7 405.6 L730.6 410.3 L731.6 421.2 L732.5 436.9 L733.4 440.0 L734.4 449.4 L735.3 454.1 L736.2 458.8 L737.2 457.2 L738.1 452.5 L739.1 443.1 L740.0 436.1 L740.9 446.2 L741.9 436.1 L742.8 440.0 L743.8 433.0 L744.7 436.9 L745.6 431.4 L746.6 427.5 L747.5 421.2 L748.1 417.3 L749.1 427.5 L750.0 433.8 L750.9 444.7 L751.9 452.5 L752.5 461.9 L753.1 475.9 L753.8 482.2 L754.7 476.7 L755.6 479.8 L756.6 474.4 L757.5 479.1 L758.1 488.4 L758.8 468.1 L759.7 462.7 L760.6 465.8 L761.6 475.9 L762.2 486.9 L763.1 486.1 L763.8 494.7 L764.7 497.8 L765.6 495.5 L766.6 500.2 L767.5 496.2 L768.4 499.4 L769.1 504.1 L769.7 486.9 L770.6 475.9 L771.6 471.2 L772.5 472.0 L773.4 461.9 L774.4 450.9 L775.3 444.7 L776.2 445.5 L777.2 458.8 L778.1 466.6 L779.1 468.1 L780.0 472.0 L780.9 486.9 L781.9 500.2 L782.5 483.8 L783.8 483.8 L784.7 494.7 L785.6 500.9 L786.2 507.2 L787.2 494.7 L787.8 485.3 L788.4 460.3 L789.4 474.4 L790.0 486.1 L790.9 480.6 L791.6 468.1 L792.5 455.6 L793.4 449.4 L794.4 441.6 L795.3 443.9 L796.2 440.0 L797.5 436.1 L798.8 440.0 L799.7 435.3 L800.6 440.0 L801.2 452.5 L801.9 463.4 L802.5 470.5 L803.4 463.4 L804.4 468.1 L805.3 460.3 L805.9 473.6 L806.9 458.8 L807.8 449.4 L808.8 440.0 L809.7 432.2 L810.6 429.1 L811.6 429.8 L812.5 429.1 L813.4 433.8 L814.4 429.1 L815.3 426.7 L816.2 435.3 L816.9 444.7 L817.8 447.8 L818.4 458.8 L819.1 468.1 L819.7 475.9 L820.6 480.6 L821.6 475.9 L822.5 486.9 L823.1 489.2 L824.1 482.2 L825.0 471.2 L825.9 477.5 L826.9 466.6 L827.8 465.0 L828.8 452.5 L829.7 441.6 L830.6 433.8 L831.6 441.6 L832.5 430.6 L833.1 429.1 L833.8 440.0 L834.7 444.7 L835.6 452.5 L836.6 458.8 L837.5 466.6 L838.4 472.8 L839.4 488.4 L840.0 497.8 L840.9 491.6 L841.9 485.3 L842.8 475.9 L843.8 473.6 L844.7 480.6 L845.6 491.6 L846.2 500.9 L847.2 493.1 L848.1 497.8 L849.1 513.4 L850.9 513.4 L851.9 505.6 L852.8 498.6 L853.8 508.8 L854.7 499.4 L855.3 486.9 L855.9 463.4 L856.6 449.4 L857.5 444.7 L858.4 449.4 L859.4 455.6 L860.3 463.4 L861.2 468.1 L862.2 460.3 L863.1 466.6 L864.1 480.6 L864.7 468.1 L865.6 455.6 L866.6 444.7 L867.5 440.0 L868.4 446.2 L869.1 457.2 L869.7 468.1 L870.6 454.1 L871.2 461.9 L871.9 471.2 L872.8 483.0 L873.4 471.2 L874.4 455.6 L875.3 454.1 L875.9 444.7 L876.9 463.4 L877.8 475.9 L878.4 483.0 L879.1 471.2 L880.0 460.3 L880.9 456.4 L881.6 468.1 L882.2 457.2 L883.1 449.4 L884.1 447.0 L885.0 452.5 L885.6 447.8 L886.6 460.3 L887.5 471.2 L888.4 477.5 L889.1 479.8 L890.0 471.2 L890.6 455.6 L891.2 446.2 L891.9 440.0 L891.9 435.0 L892.8 427.2 L893.8 428.8 L894.7 422.5 L895.6 417.8 L896.6 418.6 L897.5 416.2 L898.8 411.6 L899.7 417.8 L900.6 420.9 L901.6 425.6 L902.5 419.4 L903.4 415.5 L904.4 419.4 L905.3 414.7 L906.2 410.0 L907.2 402.2 L908.1 393.6 L909.1 402.2 L910.0 410.0 L910.9 416.2 L911.9 422.5 L912.8 428.8 L913.4 435.0 L914.4 438.1 L915.0 447.5 L915.6 425.6 L916.2 406.9 L917.2 410.0 L917.8 402.2 L918.4 388.1 L919.1 378.8 L920.0 383.4 L920.9 395.9 L921.9 388.1 L922.8 378.8 L923.4 395.9 L924.1 405.3 L924.7 413.1 L925.6 419.4 L926.6 428.8 L927.5 417.8 L928.4 411.6 L929.4 428.8 L930.0 422.5 L930.9 406.9 L931.9 397.5 L932.5 393.6 L933.4 395.2 L934.4 393.6 L935.0 403.8 L935.6 413.9 L936.6 411.6 L937.5 406.9 L938.4 410.0 L939.1 400.6 L939.7 385.0" fill="none" stroke="#347fd7" stroke-width="2.1" stroke-linejoin="round" stroke-linecap="round"/>
<rect x="349" y="188" width="592" height="48" fill="#fff"/>
<rect x="349" y="235" width="560" height="41.5" fill="#fff"/>
<text class="note" x="355.2" y="214.5" textLength="572.5" lengthAdjust="spacingAndGlyphs">Sentiment has been pushed to extreme optimism.</text>
<text class="note" x="354.9" y="242.5" textLength="553" lengthAdjust="spacingAndGlyphs">If I am correct and the dollar is in a bear market,</text>
<text class="note" x="355.2" y="270.6" textLength="535" lengthAdjust="spacingAndGlyphs">sentiment should revert back to bearish soon.</text>
<line x1="868" y1="282.6" x2="919" y2="356.2" stroke="#000" stroke-width="5" stroke-linecap="round"/>
<polygon points="928.7,370 913.2,363 926.4,351.8" fill="#000" stroke="#000" stroke-width="0.8" stroke-linejoin="miter"/>
</svg></body></html>
